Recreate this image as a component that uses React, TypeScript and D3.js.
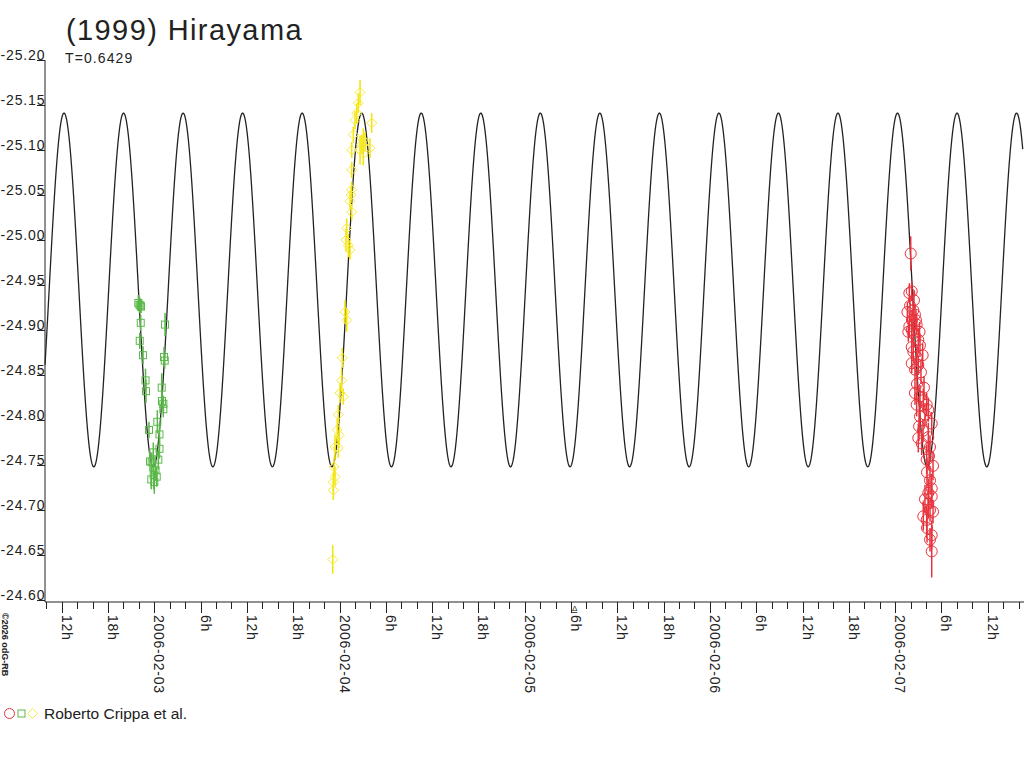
import React from "react";
import * as d3 from "d3";

// asteroid lightcurve, times in hours after 2006-02-03 00:00 UT
const TITLE = "(1999) Hirayama";
const PERIOD_LABEL = "T=0.6429";
const PERIOD_DAYS = 0.6429;
const CURVE_MEAN = -24.9445;
const CURVE_AMP = 0.1965;
const CURVE_EPOCH_H = -11.7; // hour of a maximum
const LEGEND_LABEL = "Roberto Crippa et al.";
const COPYRIGHT = "\u00a92026 odG-RB";

const yTickValues = [-25.2, -25.15, -25.1, -25.05, -25.0, -24.95, -24.9, -24.85, -24.8, -24.75, -24.7, -24.65, -24.6];

const greenHours = [-2.07, -1.92, -1.79, -1.72, -1.76, -1.89, -1.46, -1.14, -1.08, -0.69, -0.56, -0.34, -0.13, -0.39, 0.0, 0.31, 0.39, 0.52, 0.67, 0.67, 0.96, 1.0, 1.17, 1.17, 1.26, 1.35, 1.39, 0.16, -0.08];
const greenMags = [-24.93, -24.928, -24.927, -24.926, -24.908, -24.888, -24.872, -24.844, -24.832, -24.789, -24.754, -24.753, -24.764, -24.734, -24.731, -24.737, -24.798, -24.756, -24.768, -24.784, -24.836, -24.821, -24.818, -24.812, -24.87, -24.866, -24.906, -24.744, -24.739];
const greenErrs = [0.009, 0.009, 0.008, 0.007, 0.009, 0.009, 0.01, 0.013, 0.013, 0.009, 0.011, 0.011, 0.011, 0.011, 0.013, 0.011, 0.013, 0.011, 0.011, 0.013, 0.016, 0.011, 0.009, 0.009, 0.011, 0.009, 0.013, 0.011, 0.016];

const yellowHours = [26.66, 26.43, 26.23, 26.01, 28.17, 25.79, 27.08, 26.88, 27.3, 27.95, 25.58, 26.66, 27.08, 25.58, 25.58, 25.49, 25.36, 25.58, 24.93, 24.84, 25.14, 25.36, 24.71, 24.93, 24.36, 24.28, 24.06, 24.49, 23.84, 23.71, 23.97, 23.42, 23.84, 23.29, 23.42, 23.2, 23.2, 23.12];
const yellowMags = [-25.164, -25.152, -25.141, -25.133, -25.13, -25.117, -25.111, -25.106, -25.109, -25.102, -25.1, -25.1, -25.096, -25.078, -25.056, -25.05, -25.043, -25.031, -25.013, -25.0, -24.994, -24.989, -24.92, -24.911, -24.869, -24.844, -24.83, -24.826, -24.806, -24.789, -24.783, -24.77, -24.769, -24.748, -24.737, -24.731, -24.722, -24.645];
const yellowErrs = [0.014, 0.011, 0.011, 0.01, 0.011, 0.009, 0.013, 0.011, 0.011, 0.011, 0.009, 0.016, 0.013, 0.009, 0.009, 0.009, 0.009, 0.009, 0.011, 0.013, 0.013, 0.011, 0.013, 0.013, 0.011, 0.013, 0.011, 0.009, 0.011, 0.013, 0.011, 0.013, 0.011, 0.011, 0.011, 0.011, 0.011, 0.016];

const redHours = [98.02, 97.84, 98.15, 97.93, 98.35, 98.57, 97.84, 98.15, 98.35, 97.71, 98.7, 98.79, 99.0, 99.22, 99.57, 98.15, 98.35, 98.79, 98.15, 98.57, 99.0, 98.57, 99.22, 99.65, 98.79, 100.09, 99.22, 99.87, 100.3, 100.74, 99.0, 99.44, 100.3, 100.52, 100.09, 100.52, 100.74, 100.3, 100.74, 100.3, 100.52, 99.65, 100.09, 100.74, 100.52, 100.74, 97.59, 98.44, 99.16, 99.35, 98.83, 99.74, 99.1, 99.61, 100.39, 100.91, 100.13, 99.87, 100.91, 100.13, 98.18];
const redMags = [-24.985, -24.941, -24.943, -24.927, -24.922, -24.917, -24.904, -24.9, -24.896, -24.898, -24.911, -24.906, -24.889, -24.883, -24.872, -24.881, -24.876, -24.87, -24.863, -24.856, -24.861, -24.83, -24.826, -24.822, -24.817, -24.817, -24.804, -24.806, -24.811, -24.796, -24.78, -24.774, -24.781, -24.77, -24.756, -24.733, -24.724, -24.719, -24.715, -24.707, -24.7, -24.693, -24.689, -24.672, -24.667, -24.654, -24.92, -24.933, -24.898, -24.853, -24.84, -24.836, -24.793, -24.788, -24.76, -24.749, -24.742, -24.712, -24.698, -24.68, -24.911];
const redErrs = [0.019, 0.011, 0.011, 0.011, 0.011, 0.011, 0.013, 0.013, 0.013, 0.011, 0.011, 0.011, 0.013, 0.013, 0.013, 0.011, 0.011, 0.011, 0.011, 0.013, 0.011, 0.013, 0.013, 0.013, 0.013, 0.013, 0.016, 0.013, 0.013, 0.013, 0.016, 0.013, 0.016, 0.013, 0.016, 0.016, 0.016, 0.016, 0.013, 0.016, 0.013, 0.016, 0.016, 0.016, 0.013, 0.029, 0.011, 0.011, 0.011, 0.013, 0.013, 0.013, 0.016, 0.013, 0.016, 0.016, 0.016, 0.016, 0.013, 0.016, 0.011];

const FONT = "'Liberation Sans', Arial, sans-serif";
const INK = "#222";
const RED = "#e8323c";
const GREEN = "#5bb84a";
const YELLOW_BAR = "#f5e400";
const YELLOW_MARK = "#f5ea40";

const BASE = Date.UTC(2006, 1, 3);
const toDate = (h: number) => new Date(BASE + h * 3600e3);

const margin = { left: 45, right: 1023, top: 60, bottom: 600, axisY: 602 };

const x = d3
  .scaleUtc()
  .domain([toDate(-14.165), toDate(112.57)])
  .range([margin.left, margin.right]);
const y = d3.scaleLinear().domain([-25.2, -24.6]).range([margin.top, margin.bottom]);

const model = (h: number) =>
  CURVE_MEAN - CURVE_AMP * Math.cos((2 * Math.PI * (h - CURVE_EPOCH_H)) / ((PERIOD_DAYS * 24) / 2));

type Pt = { h: number; m: number; e: number };
const zip = (hs: number[], ms: number[], es: number[]): Pt[] =>
  hs.map((h, i) => ({ h, m: ms[i], e: es[i] }));

const DIAMOND = "M0,-5L5,0L0,5L-5,0Z";

const Bars = ({ pts, color }: { pts: Pt[]; color: string }) => (
  <g stroke={color} strokeWidth={1.5}>
    {pts.map((p, i) => (
      <line key={i} x1={x(toDate(p.h))} x2={x(toDate(p.h))} y1={y(p.m - p.e)} y2={y(p.m + p.e)} />
    ))}
  </g>
);

export default function App() {
  const [d0, d1] = x.domain();
  const curveHours = d3.range(-14.165, 112.58, 0.05);
  const line = d3
    .line<number>()
    .x((h) => x(toDate(h)))
    .y((h) => y(model(h)));

  const ticks = d3.utcHour.every(2)!.range(d0, d1);
  const green = zip(greenHours, greenMags, greenErrs);
  const yellow = zip(yellowHours, yellowMags, yellowErrs);
  const red = zip(redHours, redMags, redErrs);

  return (
    <svg
      width={1024}
      height={768}
      style={{ position: "absolute", left: 0, top: 0, background: "#fff" }}
      fontFamily={FONT}
    >
      <text x={66} y={40} fontSize={29} letterSpacing={1.4} fill={INK}>
        {TITLE}
      </text>
      <text x={65} y={63} fontSize={14} letterSpacing={1.1} fill={INK}>
        {PERIOD_LABEL}
      </text>

      {/* y axis */}
      <line x1={margin.left} x2={margin.left} y1={margin.top} y2={margin.axisY} stroke={INK} />
      {yTickValues.map((v) => (
        <g key={v}>
          <line x1={37} x2={margin.left} y1={y(v) + 0.5} y2={y(v) + 0.5} stroke={INK} />
          <text x={45.5} y={y(v)} textAnchor="end" fontSize={14} letterSpacing={0.9} fill={INK}>
            {v.toFixed(2)}
          </text>
        </g>
      ))}

      {/* x axis */}
      <line x1={margin.left} x2={1024} y1={margin.axisY} y2={margin.axisY} stroke={INK} />
      {ticks.map((t) => {
        const hr = t.getUTCHours();
        const major = hr % 6 === 0;
        const xx = Math.round(x(t)) + 0.5;
        const label = hr === 0 ? d3.utcFormat("%Y-%m-%d")(t) : `${hr}h`;
        return (
          <g key={+t}>
            <line x1={xx} x2={xx} y1={margin.axisY} y2={margin.axisY + (major ? 11 : 7)} stroke={INK} />
            {major && (
              <text
                transform={`translate(${xx - 0.5},615) rotate(90)`}
                fontSize={14}
                letterSpacing={0.7}
                fill={INK}
              >
                {label}
              </text>
            )}
          </g>
        );
      })}
      <text x={572} y={611} fontSize={8} fill={INK} textDecoration="underline">
        {"\u0394"}
      </text>

      {/* model curve */}
      <path d={line(curveHours) ?? ""} fill="none" stroke={INK} strokeWidth={1.3} />

      {/* observations */}
      <Bars pts={green} color={GREEN} />
      <g fill="none" stroke={GREEN} strokeWidth={1}>
        {green.map((p, i) => (
          <rect key={i} x={x(toDate(p.h)) - 3.5} y={y(p.m) - 3.5} width={7} height={7} />
        ))}
      </g>

      <Bars pts={yellow} color={YELLOW_BAR} />
      <g fill="none" stroke={YELLOW_MARK} strokeWidth={1}>
        {yellow.map((p, i) => (
          <path key={i} transform={`translate(${x(toDate(p.h))},${y(p.m)})`} d={DIAMOND} />
        ))}
      </g>

      <Bars pts={red} color={RED} />
      <g fill="none" stroke={RED} strokeWidth={1}>
        {red.map((p, i) => (
          <circle key={i} cx={x(toDate(p.h))} cy={y(p.m)} r={5.5} />
        ))}
      </g>

      {/* legend */}
      <circle cx={9.5} cy={713.5} r={5} fill="none" stroke={RED} />
      <rect x={18} y={710} width={7} height={7} fill="none" stroke={GREEN} />
      <path transform="translate(32.5,713.5)" d={DIAMOND} fill="none" stroke={YELLOW_MARK} />
      <text x={44} y={719} fontSize={15.5} fill={INK}>
        {LEGEND_LABEL}
      </text>

      <text transform="translate(2,613) rotate(90)" fontSize={9} fontWeight="bold" fill={INK}>
        {COPYRIGHT}
      </text>
    </svg>
  );
}
